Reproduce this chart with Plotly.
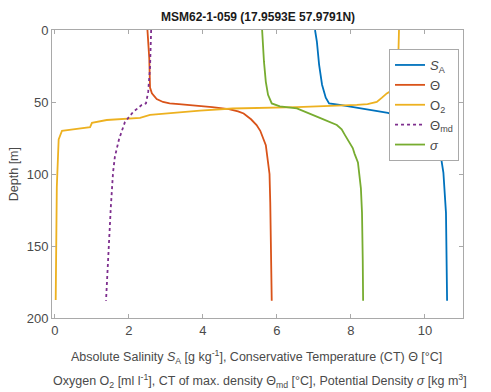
import plotly.graph_objects as go

# ---- data ----
sa_depth = [0, 8, 24, 38, 47, 51, 52, 53.5, 55.6, 57.6, 60, 65, 70, 78, 82, 85, 87.5, 99, 127, 160, 188]
sa_val = [7.03, 7.08, 7.14, 7.22, 7.32, 7.41, 7.7, 8.05, 8.5, 9.0, 9.3, 9.8, 10.05, 10.2, 10.24, 10.32, 10.43, 10.5, 10.57, 10.59, 10.6]

ct_depth = [0, 10, 20, 30, 40, 44, 48, 50, 51, 51.5, 52.5, 53.5, 55, 56.5, 58, 62, 66, 70, 80, 90, 100, 120, 150, 188]
ct_val = [2.5, 2.53, 2.55, 2.56, 2.57, 2.62, 2.75, 2.92, 3.1, 3.35, 3.9, 4.25, 4.7, 4.95, 5.1, 5.3, 5.45, 5.55, 5.7, 5.76, 5.8, 5.82, 5.84, 5.86]

o2_depth = [0, 10, 20, 30, 38, 42, 44, 47, 50, 51.5, 52, 53.5, 54.5, 56, 59, 61, 62.5, 64.5, 67.5, 69, 70, 76, 109, 187.5]
o2_val = [9.3, 9.3, 9.28, 9.25, 9.2, 9.1, 8.97, 8.84, 8.7, 8.45, 8.16, 6.54, 4.8, 3.92, 2.57, 2.3, 1.4, 1.0, 0.95, 0.49, 0.19, 0.1, 0.05, 0.02]

tmd_depth = [0, 10, 26, 43, 51, 52, 57, 64, 76, 88, 99, 123, 158, 188]
tmd_val = [2.6, 2.59, 2.57, 2.52, 2.46, 2.35, 2.11, 1.89, 1.73, 1.62, 1.57, 1.51, 1.43, 1.38]

sig_depth = [0, 10, 22, 36, 45, 51, 53, 54.5, 58, 61, 66, 69, 73, 78, 82, 86, 92, 110, 127, 160, 188]
sig_val = [5.6, 5.62, 5.65, 5.7, 5.76, 5.86, 6.08, 6.54, 6.9, 7.16, 7.62, 7.75, 7.84, 7.97, 8.05, 8.1, 8.19, 8.27, 8.3, 8.32, 8.33]

x_ticks = [0, 2, 4, 6, 8, 10]
y_ticks = [0, 50, 100, 150, 200]

title_text = "MSM62-1-059 (17.9593E 57.9791N)"
xlabel1 = "Absolute Salinity <i>S</i><sub>A</sub> [g kg<sup>-1</sup>], Conservative Temperature (CT) Θ [°C]"
xlabel2 = "Oxygen <i>O</i><sub>2</sub> [ml l<sup>-1</sup>], CT of max. density Θ<sub>md</sub> [°C], Potential Density <i>σ</i> [kg m<sup>3</sup>]"
xlabel2 = "Oxygen O<sub>2</sub> [ml l<sup>-1</sup>], CT of max. density Θ<sub>md</sub> [°C], Potential Density <i>σ</i> [kg m<sup>3</sup>]"

FONT = "Liberation Sans, Arial, sans-serif"
AX = "#a9a9a9"
TXT = "#4a4a4a"

fig = go.Figure()
fig.add_trace(go.Scatter(x=sa_val, y=sa_depth, mode="lines", name="<i>S</i><sub>A</sub>",
                         line=dict(color="#0072BD", width=1.8)))
fig.add_trace(go.Scatter(x=ct_val, y=ct_depth, mode="lines", name="Θ",
                         line=dict(color="#D95319", width=1.8)))
fig.add_trace(go.Scatter(x=o2_val, y=o2_depth, mode="lines", name="O<sub>2</sub>",
                         line=dict(color="#EDB120", width=1.8)))
fig.add_trace(go.Scatter(x=tmd_val, y=tmd_depth, mode="lines", name="Θ<sub>md</sub>",
                         line=dict(color="#7E2F8E", width=1.8, dash="dot")))
fig.add_trace(go.Scatter(x=sig_val, y=sig_depth, mode="lines", name="<i>σ</i>",
                         line=dict(color="#77AC30", width=1.8)))

fig.update_layout(
    width=491, height=392, autosize=False,
    margin=dict(l=52, r=28, t=30, b=74),
    paper_bgcolor="white", plot_bgcolor="white",
    font=dict(family=FONT, size=13, color=TXT),
    showlegend=True,
    legend=dict(x=0.82, y=0.934, xanchor="left", yanchor="top",
                bgcolor="white", bordercolor=AX, borderwidth=1,
                font=dict(size=13, color=TXT), itemwidth=30, tracegroupgap=0),
    xaxis=dict(range=[-0.08, 11.03], tickvals=x_ticks, showgrid=False, zeroline=False,
               showline=True, linecolor=AX, linewidth=1, mirror="ticks",
               ticks="inside", ticklen=4, tickcolor=AX,
               tickfont=dict(size=13, color=TXT)),
    yaxis=dict(range=[200, 0], tickvals=y_ticks, showgrid=False, zeroline=False,
               showline=True, linecolor=AX, linewidth=1, mirror="ticks",
               ticks="inside", ticklen=4, tickcolor=AX,
               tickfont=dict(size=13, color=TXT)),
    annotations=[
        dict(text="<b>" + title_text + "</b>", x=0.5, y=1.0, xref="paper", yref="paper",
             xanchor="center", yanchor="bottom", yshift=4, showarrow=False,
             font=dict(size=12, color="#1a1a1a", family=FONT)),
        dict(text=xlabel1, x=0.4976, y=-0.135, xref="paper", yref="paper",
             xanchor="center", yanchor="middle", showarrow=False,
             font=dict(size=12.5, color=TXT, family=FONT)),
        dict(text=xlabel2, x=0.505, y=-0.219, xref="paper", yref="paper",
             xanchor="center", yanchor="middle", showarrow=False,
             font=dict(size=12.5, color=TXT, family=FONT)),
        dict(text="Depth [m]", x=-0.092, y=0.5, xref="paper", yref="paper",
             xanchor="center", yanchor="middle", textangle=-90, showarrow=False,
             font=dict(size=12.5, color=TXT, family=FONT)),
    ],
)

fig.write_html("out.html")
